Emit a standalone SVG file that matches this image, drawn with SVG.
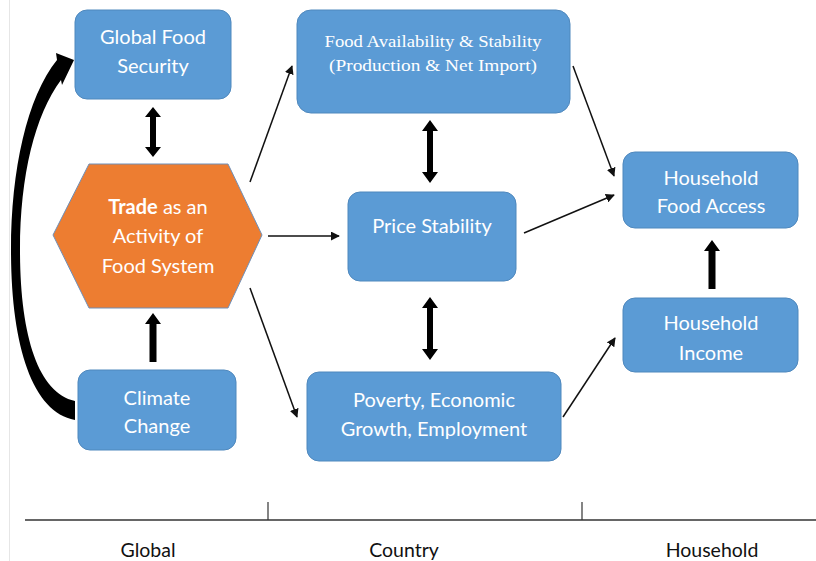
<svg xmlns="http://www.w3.org/2000/svg" width="816" height="561" viewBox="0 0 816 561">
<defs>
<style>
.box{fill:#5B9BD5;stroke:#4F88BD;stroke-width:1}
.hex{fill:#ED7D31;stroke:#6F8FB8;stroke-width:1}
.t{font-family:Lato,"Open Sans",sans-serif;font-size:20px;fill:#fff;text-anchor:middle}
.ts{font-family:"Liberation Serif",serif;font-size:17.5px;fill:#fff;text-anchor:middle}
.ax{font-family:Lato,"Open Sans",sans-serif;font-size:19.5px;fill:#111;text-anchor:middle}
.thin{stroke:#111;stroke-width:1.5;fill:none;marker-end:url(#ah)}
.thick{fill:#000}
</style>
<marker id="ah" viewBox="0 0 10 10" refX="9" refY="5" markerWidth="9" markerHeight="9" markerUnits="userSpaceOnUse" orient="auto">
<path d="M0,0 L10,5 L0,10 Z" fill="#111"/>
</marker>
</defs>
<rect width="816" height="561" fill="#fff"/>
<line x1="9.5" y1="0" x2="9.5" y2="561" stroke="#e6e6e6" stroke-width="1"/>

<g id="node-global-food-security">
<rect class="box" x="75" y="10" width="156" height="89" rx="12"/>
<text class="t" x="153" y="44">Global Food</text>
<text class="t" x="153" y="73">Security</text>
</g>
<g id="node-trade">
<polygon class="hex" points="89,164 228,164 262,235 228,308 89,308 53,235"/>
<text class="t" x="158" y="214"><tspan font-weight="bold">Trade</tspan> as an</text>
<text class="t" x="158" y="243">Activity of</text>
<text class="t" x="158" y="273">Food System</text>
</g>
<g id="node-climate-change">
<rect class="box" x="78" y="370" width="158" height="80" rx="12"/>
<text class="t" x="157" y="405">Climate</text>
<text class="t" x="157" y="433">Change</text>
</g>
<g id="node-food-availability">
<rect class="box" x="297" y="10" width="273" height="103" rx="14"/>
<text class="ts" x="433" y="47" textLength="217" lengthAdjust="spacingAndGlyphs">Food Availability &amp; Stability</text>
<text class="ts" x="433" y="71" textLength="208" lengthAdjust="spacingAndGlyphs">(Production &amp; Net Import)</text>
</g>
<g id="node-price-stability">
<rect class="box" x="348" y="192" width="168" height="89" rx="12"/>
<text class="t" x="432" y="233">Price Stability</text>
</g>
<g id="node-poverty">
<rect class="box" x="307" y="372" width="254" height="89" rx="12"/>
<text class="t" x="434" y="407">Poverty, Economic</text>
<text class="t" x="434" y="436">Growth, Employment</text>
</g>
<g id="node-household-food-access">
<rect class="box" x="623" y="152" width="175" height="76" rx="12"/>
<text class="t" x="711" y="185">Household</text>
<text class="t" x="711" y="213">Food Access</text>
</g>
<g id="node-household-income">
<rect class="box" x="623" y="298" width="175" height="74" rx="12"/>
<text class="t" x="711" y="330">Household</text>
<text class="t" x="711" y="360">Income</text>
</g>

<g id="connectors">
<path class="thick" d="M75,401 C38,393 20,335 20,250 C20,175 35,115 61,80 L62,85 L74,60 L56,53 L57,60 C27,97 11,170 11,250 C11,345 32,412 75,420 Z"/>
<path class="thick" d="M153,107 L161,117 L156,117 L156,147 L161,147 L153,157 L145,147 L150,147 L150,117 L145,117 Z"/>
<path class="thick" d="M430,120 L438,131 L433,131 L433,172 L438,172 L430,183 L422,172 L427,172 L427,131 L422,131 Z"/>
<path class="thick" d="M430,297 L438,308 L433,308 L433,349 L438,349 L430,360 L422,349 L427,349 L427,308 L422,308 Z"/>
<path class="thick" d="M153,313 L161,324 L156.5,324 L156.5,362 L149.5,362 L149.5,324 L145,324 Z"/>
<path class="thick" d="M712,240 L720,251 L715.5,251 L715.5,289 L708.5,289 L708.5,251 L704,251 Z"/>
<line class="thin" x1="250" y1="182" x2="292" y2="66"/>
<line class="thin" x1="268" y1="236" x2="339" y2="236"/>
<line class="thin" x1="250" y1="288" x2="297" y2="417"/>
<line class="thin" x1="573" y1="66" x2="614" y2="176"/>
<line class="thin" x1="524" y1="233" x2="614" y2="195"/>
<line class="thin" x1="563" y1="417" x2="615" y2="338"/>
</g>

<g id="axis">
<line x1="25" y1="520" x2="816" y2="520" stroke="#333" stroke-width="1.5"/>
<line x1="268" y1="502" x2="268" y2="520" stroke="#333" stroke-width="1.2"/>
<line x1="582" y1="502" x2="582" y2="520" stroke="#333" stroke-width="1.2"/>
<text class="ax" x="148" y="557">Global</text>
<text class="ax" x="404" y="557">Country</text>
<text class="ax" x="712" y="557">Household</text>
</g>
</svg>
